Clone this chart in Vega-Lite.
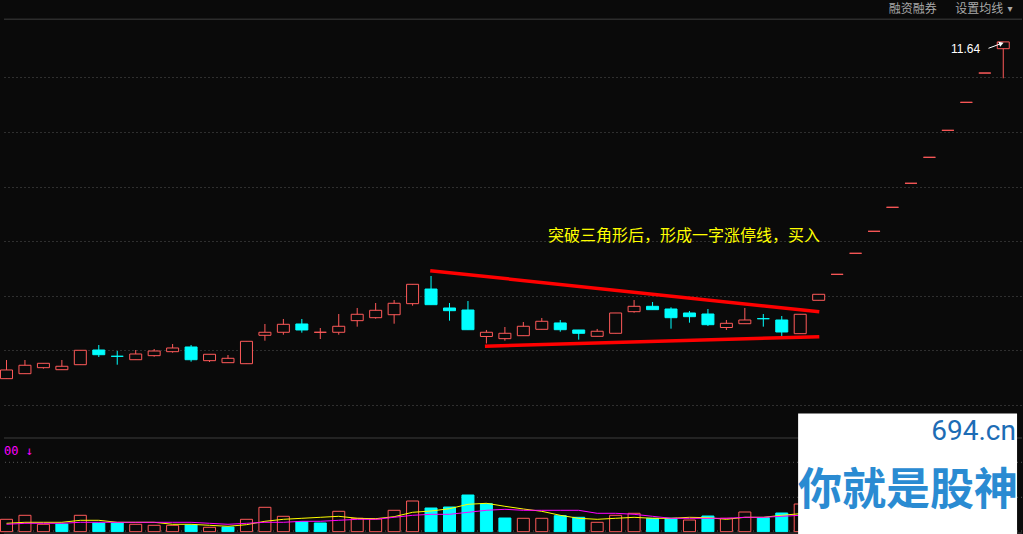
{
"$schema": "https://vega.github.io/schema/vega-lite/v6.json",
"width": 1023, "height": 534,
"autosize": {"type": "fit", "contains": "padding"},
"padding": 0,
"background": "#0a0a0a",
"config": {
  "view": {"stroke": null},
  "axis": {"labels": false, "ticks": false, "domain": false, "title": null, "grid": true, "gridColor": "#555555", "gridDash": [1, 3], "gridWidth": 1},
  "axisX": {"grid": false}
},
"datasets": {"k": [
{"i":0,"o":5.637,"h":5.970,"l":5.637,"c":5.792,"d":"u","v":12400,"vd":"u","m5":8400,"m10":7400},
{"i":1,"o":5.726,"h":5.970,"l":5.726,"c":5.876,"d":"u","v":16400,"vd":"u","m5":9400,"m10":8400},
{"i":2,"o":5.833,"h":5.911,"l":5.815,"c":5.911,"d":"u","v":7400,"vd":"u","m5":9400,"m10":8400},
{"i":3,"o":5.797,"h":5.970,"l":5.797,"c":5.858,"d":"u","v":7700,"vd":"d","m5":9400,"m10":8400},
{"i":4,"o":5.886,"h":6.143,"l":5.886,"c":6.143,"d":"u","v":16400,"vd":"u","m5":11400,"m10":9400},
{"i":5,"o":6.148,"h":6.237,"l":6.023,"c":6.064,"d":"d","v":8700,"vd":"d","m5":11400,"m10":9400},
{"i":6,"o":6.036,"h":6.130,"l":5.886,"c":6.036,"d":"d","v":8700,"vd":"d","m5":9400,"m10":9400},
{"i":7,"o":5.975,"h":6.148,"l":5.975,"c":6.077,"d":"u","v":7400,"vd":"u","m5":9400,"m10":9400},
{"i":8,"o":6.047,"h":6.166,"l":6.029,"c":6.130,"d":"u","v":6400,"vd":"u","m5":9400,"m10":9400},
{"i":9,"o":6.118,"h":6.255,"l":6.100,"c":6.184,"d":"u","v":6400,"vd":"u","m5":7400,"m10":9400},
{"i":10,"o":6.202,"h":6.237,"l":5.940,"c":5.975,"d":"d","v":6700,"vd":"d","m5":7400,"m10":9400},
{"i":11,"o":5.958,"h":6.072,"l":5.934,"c":6.072,"d":"u","v":4400,"vd":"u","m5":6400,"m10":8400},
{"i":12,"o":5.922,"h":6.059,"l":5.922,"c":6.000,"d":"u","v":4700,"vd":"d","m5":5400,"m10":7400},
{"i":13,"o":5.904,"h":6.303,"l":5.904,"c":6.303,"d":"u","v":12400,"vd":"u","m5":7000,"m10":8400},
{"i":14,"o":6.410,"h":6.612,"l":6.314,"c":6.464,"d":"u","v":24400,"vd":"u","m5":10400,"m10":9400},
{"i":15,"o":6.464,"h":6.701,"l":6.421,"c":6.606,"d":"u","v":15400,"vd":"u","m5":12400,"m10":9400},
{"i":16,"o":6.612,"h":6.701,"l":6.457,"c":6.505,"d":"d","v":10000,"vd":"d","m5":13400,"m10":10400},
{"i":17,"o":6.464,"h":6.540,"l":6.344,"c":6.464,"d":"u","v":8700,"vd":"d","m5":14400,"m10":10400},
{"i":18,"o":6.464,"h":6.790,"l":6.421,"c":6.571,"d":"u","v":20400,"vd":"u","m5":15400,"m10":11400},
{"i":19,"o":6.671,"h":6.897,"l":6.564,"c":6.785,"d":"u","v":13400,"vd":"u","m5":13400,"m10":12400},
{"i":20,"o":6.724,"h":6.986,"l":6.706,"c":6.856,"d":"u","v":12700,"vd":"u","m5":13000,"m10":12400},
{"i":21,"o":6.777,"h":7.039,"l":6.617,"c":6.981,"d":"u","v":21400,"vd":"u","m5":15000,"m10":14400},
{"i":22,"o":6.974,"h":7.319,"l":6.938,"c":7.319,"d":"u","v":30700,"vd":"u","m5":19400,"m10":16400},
{"i":23,"o":7.235,"h":7.467,"l":6.956,"c":6.956,"d":"d","v":23700,"vd":"d","m5":20700,"m10":17400},
{"i":24,"o":6.897,"h":6.986,"l":6.671,"c":6.849,"d":"d","v":24700,"vd":"d","m5":23000,"m10":17400},
{"i":25,"o":6.861,"h":7.021,"l":6.510,"c":6.510,"d":"d","v":36700,"vd":"d","m5":27400,"m10":19400},
{"i":26,"o":6.389,"h":6.505,"l":6.264,"c":6.464,"d":"u","v":28000,"vd":"d","m5":28400,"m10":21400},
{"i":27,"o":6.350,"h":6.558,"l":6.314,"c":6.446,"d":"u","v":13700,"vd":"d","m5":25400,"m10":22400},
{"i":28,"o":6.403,"h":6.647,"l":6.403,"c":6.571,"d":"u","v":13400,"vd":"u","m5":22700,"m10":21400},
{"i":29,"o":6.517,"h":6.719,"l":6.517,"c":6.660,"d":"u","v":13400,"vd":"u","m5":20400,"m10":21400},
{"i":30,"o":6.630,"h":6.683,"l":6.474,"c":6.510,"d":"d","v":16000,"vd":"d","m5":16400,"m10":21400},
{"i":31,"o":6.505,"h":6.505,"l":6.332,"c":6.446,"d":"d","v":14400,"vd":"d","m5":13400,"m10":21400},
{"i":32,"o":6.392,"h":6.523,"l":6.392,"c":6.482,"d":"u","v":9400,"vd":"u","m5":12400,"m10":18400},
{"i":33,"o":6.446,"h":6.808,"l":6.446,"c":6.808,"d":"u","v":16400,"vd":"u","m5":13400,"m10":18400},
{"i":34,"o":6.831,"h":7.039,"l":6.813,"c":6.927,"d":"u","v":18400,"vd":"u","m5":14400,"m10":17400},
{"i":35,"o":6.927,"h":7.004,"l":6.867,"c":6.867,"d":"d","v":13400,"vd":"d","m5":13400,"m10":15400},
{"i":36,"o":6.879,"h":6.909,"l":6.528,"c":6.724,"d":"d","v":13400,"vd":"d","m5":13400,"m10":13400},
{"i":37,"o":6.808,"h":6.843,"l":6.635,"c":6.742,"d":"d","v":11700,"vd":"u","m5":14400,"m10":13400},
{"i":38,"o":6.790,"h":6.879,"l":6.576,"c":6.599,"d":"d","v":15700,"vd":"d","m5":14000,"m10":13400},
{"i":39,"o":6.549,"h":6.683,"l":6.505,"c":6.624,"d":"u","v":13400,"vd":"u","m5":12400,"m10":13400},
{"i":40,"o":6.617,"h":6.897,"l":6.617,"c":6.683,"d":"u","v":19700,"vd":"u","m5":14400,"m10":14400},
{"i":41,"o":6.706,"h":6.790,"l":6.564,"c":6.706,"d":"d","v":14000,"vd":"d","m5":14400,"m10":14400},
{"i":42,"o":6.683,"h":6.754,"l":6.398,"c":6.469,"d":"d","v":18700,"vd":"d","m5":16400,"m10":15400},
{"i":43,"o":6.439,"h":6.785,"l":6.439,"c":6.785,"d":"u","v":27700,"vd":"u","m5":18000,"m10":16400},
{"i":44,"o":7.034,"h":7.141,"l":7.034,"c":7.141,"d":"u","v":30000,"vd":"u","m5":19000,"m10":17000},
{"i":45,"o":7.497,"h":7.497,"l":7.497,"c":7.497,"d":"u","v":3000,"vd":"u"},
{"i":46,"o":7.872,"h":7.872,"l":7.872,"c":7.872,"d":"u","v":2500,"vd":"u"},
{"i":47,"o":8.264,"h":8.264,"l":8.264,"c":8.264,"d":"u","v":2000,"vd":"u"},
{"i":48,"o":8.692,"h":8.692,"l":8.692,"c":8.692,"d":"u","v":2000,"vd":"u"},
{"i":49,"o":9.120,"h":9.120,"l":9.120,"c":9.120,"d":"u","v":2000,"vd":"u"},
{"i":50,"o":9.583,"h":9.583,"l":9.583,"c":9.583,"d":"u","v":2000,"vd":"u"},
{"i":51,"o":10.064,"h":10.064,"l":10.064,"c":10.064,"d":"u","v":2000,"vd":"u"},
{"i":52,"o":10.563,"h":10.563,"l":10.563,"c":10.563,"d":"u","v":2000,"vd":"u"},
{"i":53,"o":11.085,"h":11.085,"l":11.085,"c":11.085,"d":"u","v":2000,"vd":"u"},
{"i":54,"o":11.519,"h":11.640,"l":10.991,"c":11.640,"d":"u","v":26000,"vd":"u"}
],
"trend": [
  {"ln": "a", "x": 22.955, "p": 7.562}, {"ln": "a", "x": 44.034, "p": 6.829},
  {"ln": "b", "x": 25.92, "p": 6.216}, {"ln": "b", "x": 44.034, "p": 6.385}
],
"volgrid": [{"g": 700}, {"g": 34400}, {"g": 69400}],
"one": [{"n": 1}]
},
"layer": [
 {
  "layer": [
   {
    "data": {"name": "k"},
    "mark": {"type": "rule", "strokeWidth": 1},
    "encoding": {
      "x": {"field": "i", "type": "quantitative", "scale": {"domain": [-0.135, 55.015], "nice": false, "zero": false, "padding": 0}, "axis": null},
      "y": {"field": "l", "type": "quantitative", "scale": {"domain": [2.8682, 12.3869], "nice": false, "zero": false}, "axis": {"values": [11.009, 10.036, 9.062, 8.089, 7.116, 6.143, 5.169]}},
      "y2": {"field": "h"},
      "color": {"field": "d", "type": "nominal", "scale": {"domain": ["u", "d"], "range": ["#ff5a5a", "#00ffff"]}, "legend": null}
    }
   },
   {
    "data": {"name": "k"},
    "mark": {"type": "bar", "size": 12, "strokeWidth": 1},
    "encoding": {
      "x": {"field": "i", "type": "quantitative"},
      "y": {"field": "o", "type": "quantitative"},
      "y2": {"field": "c"},
      "fill": {"field": "d", "type": "nominal", "scale": {"domain": ["u", "d"], "range": ["#0a0a0a", "#00ffff"]}, "legend": null},
      "stroke": {"field": "d", "type": "nominal", "scale": {"domain": ["u", "d"], "range": ["#ff5a5a", "#00ffff"]}, "legend": null}
    }
   },
   {
    "data": {"name": "trend"},
    "mark": {"type": "line", "color": "#ff0000", "strokeWidth": 3.5},
    "encoding": {
      "x": {"field": "x", "type": "quantitative"},
      "y": {"field": "p", "type": "quantitative"},
      "detail": {"field": "ln"}
    }
   },
   {
    "data": {"name": "one"},
    "mark": {"type": "text", "text": "突破三角形后，形成一字涨停线，买入", "font": "Noto Sans CJK SC", "fontSize": 16, "color": "#ffff00", "align": "left", "baseline": "middle"},
    "encoding": {
      "x": {"datum": 29.34, "type": "quantitative"},
      "y": {"datum": 8.189, "type": "quantitative"}
    }
   },
   {
    "data": {"name": "one"},
    "mark": {"type": "text", "text": "11.64", "font": "Liberation Sans", "fontSize": 12, "color": "#ffffff", "align": "left", "baseline": "middle"},
    "encoding": {
      "x": {"datum": 51.17, "type": "quantitative"},
      "y": {"datum": 11.517, "type": "quantitative"}
    }
   },
   {
    "data": {"name": "one"},
    "mark": {"type": "rule", "color": "#ffffff", "strokeWidth": 1},
    "encoding": {
      "x": {"datum": 53.2, "type": "quantitative"},
      "x2": {"datum": 53.88},
      "y": {"datum": 11.526, "type": "quantitative"},
      "y2": {"datum": 11.61}
    }
   },
   {
    "data": {"name": "one"},
    "mark": {"type": "point", "shape": "triangle-right", "filled": true, "color": "#ffffff", "size": 28, "angle": -20, "opacity": 1},
    "encoding": {
      "x": {"datum": 53.9, "type": "quantitative"},
      "y": {"datum": 11.612, "type": "quantitative"}
    }
   },
   {
    "data": {"name": "one"},
    "mark": {"type": "rule", "color": "#2c2c2c", "strokeWidth": 1.5},
    "encoding": {
      "y": {"datum": 12.0429, "type": "quantitative"}
    }
   },
   {
    "data": {"name": "one"},
    "mark": {"type": "text", "text": "融资融券", "font": "Noto Sans CJK SC", "fontSize": 12, "color": "#a8a8a8", "align": "left", "baseline": "middle"},
    "encoding": {
      "x": {"datum": 47.79, "type": "quantitative"},
      "y": {"datum": 12.2176, "type": "quantitative"}
    }
   },
   {
    "data": {"name": "one"},
    "mark": {"type": "text", "text": "设置均线", "font": "Noto Sans CJK SC", "fontSize": 12, "color": "#a8a8a8", "align": "left", "baseline": "middle"},
    "encoding": {
      "x": {"datum": 51.40, "type": "quantitative"},
      "y": {"datum": 12.2176, "type": "quantitative"}
    }
   },
   {
    "data": {"name": "one"},
    "mark": {"type": "text", "text": "▾", "font": "DejaVu Sans", "fontSize": 10, "color": "#a8a8a8", "align": "center", "baseline": "middle"},
    "encoding": {
      "x": {"datum": 54.37, "type": "quantitative"},
      "y": {"datum": 12.2176, "type": "quantitative"}
    }
   }
  ]
 },
 {
  "layer": [
   {
    "data": {"name": "volgrid"},
    "mark": {"type": "rule", "color": "#555555", "strokeWidth": 1, "strokeDash": [1, 3]},
    "encoding": {
      "y": {"field": "g", "type": "quantitative", "scale": {"domain": [-2300, 531700], "nice": false, "zero": false}, "axis": null}
    }
   },
   {
    "data": {"name": "k"},
    "mark": {"type": "bar", "size": 12, "strokeWidth": 1},
    "encoding": {
      "x": {"field": "i", "type": "quantitative"},
      "y": {"field": "v", "type": "quantitative"},
      "y2": {"datum": 0},
      "fill": {"field": "vd", "type": "nominal", "scale": {"domain": ["u", "d"], "range": ["#0a0a0a", "#00ffff"]}, "legend": null},
      "stroke": {"field": "vd", "type": "nominal", "scale": {"domain": ["u", "d"], "range": ["#ff5a5a", "#00ffff"]}, "legend": null}
    }
   },
   {
    "data": {"name": "k"},
    "mark": {"type": "line", "color": "#ffff00", "strokeWidth": 1},
    "encoding": {
      "x": {"field": "i", "type": "quantitative"},
      "y": {"field": "m5", "type": "quantitative"}
    }
   },
   {
    "data": {"name": "k"},
    "mark": {"type": "line", "color": "#ff00ff", "strokeWidth": 1},
    "encoding": {
      "x": {"field": "i", "type": "quantitative"},
      "y": {"field": "m10", "type": "quantitative"}
    }
   },
   {
    "data": {"name": "one"},
    "mark": {"type": "rule", "color": "#2c2c2c", "strokeWidth": 1.5},
    "encoding": {
      "y": {"datum": 93700, "type": "quantitative"}
    }
   },
   {
    "data": {"name": "one"},
    "mark": {"type": "rule", "color": "#2c2c2c", "strokeWidth": 1.5},
    "encoding": {
      "y": {"datum": -1400, "type": "quantitative"}
    }
   },
   {
    "data": {"name": "one"},
    "mark": {"type": "text", "text": "00 ↓", "font": "DejaVu Sans Mono", "fontSize": 12, "color": "#ff00ff", "align": "left", "baseline": "middle"},
    "encoding": {
      "x": {"datum": -0.135, "type": "quantitative"},
      "y": {"datum": 81200, "type": "quantitative"}
    }
   }
  ]
 },
 {
  "layer": [
   {
    "data": {"name": "one"},
    "mark": {"type": "rect", "color": "#ffffff", "opacity": 1},
    "encoding": {
      "x": {"datum": 42.886, "type": "quantitative"},
      "x2": {"datum": 54.747},
      "y": {"datum": 5.016, "type": "quantitative", "scale": {"domain": [2.8682, 12.3869], "nice": false, "zero": false}, "axis": null},
      "y2": {"datum": 2.8682}
    }
   },
   {
    "data": {"name": "one"},
    "mark": {"type": "text", "text": "694.cn", "font": "Roboto", "fontSize": 28, "color": "#1d6cb5", "align": "right", "baseline": "middle"},
    "encoding": {
      "x": {"datum": 54.69, "type": "quantitative"},
      "y": {"datum": 4.686, "type": "quantitative"}
    }
   },
   {
    "data": {"name": "one"},
    "mark": {"type": "text", "text": "你就是股神", "font": "Noto Sans CJK SC", "fontSize": 44, "fontWeight": "bold", "color": "#2a8bd2", "align": "center", "baseline": "middle"},
    "encoding": {
      "x": {"datum": 48.84, "type": "quantitative"},
      "y": {"datum": 3.608, "type": "quantitative"}
    }
   }
  ]
 }
],
"resolve": {"scale": {"y": "independent"}, "axis": {"y": "independent"}}
}
